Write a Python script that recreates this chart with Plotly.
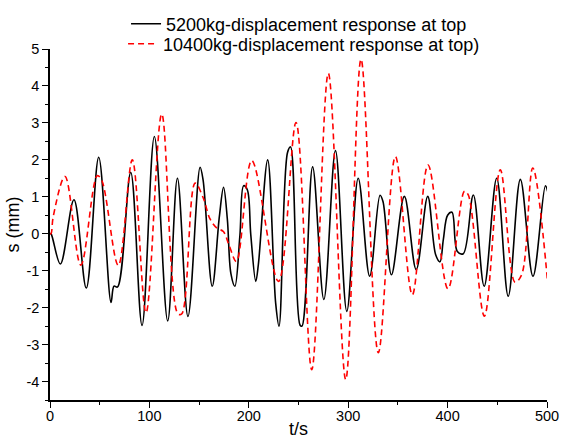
import plotly.graph_objects as go

# Black curve: 5200 kg (t in s, displacement in mm)
t_5200 = [0, 1, 10.4, 24.1, 36.5, 49, 61.4, 64.4, 68, 81.2, 92.6, 105, 118.4,
          128.2, 138.8, 151, 154, 163.2, 170.4, 174.6, 178.4, 182, 186, 191,
          194.8, 198.5, 202, 207, 209.6, 219, 227, 230.4, 238.9, 242, 251.5, 253.5,
          264.2, 275.5, 287.2, 298.6, 310.1, 321.6, 332, 335, 343.5, 356.5, 368.4,
          380, 388, 392.3, 395.7, 400, 404.4, 409.8, 415.8, 425.9, 436.8, 449.4,
          461, 473.2, 485.9, 498.4, 500.7]
s_5200 = [0, 0, -0.82, 0.92, -1.47, 2.07, -1.86, -1.42, -1.44, 1.66, -2.48, 2.63, -2.36,
          1.50, -2.24, 1.80, 1.46, -1.42, 0.47, 1.26, 0.40, -1.08, -1.42, -0.07,
          1.30, 1.19, -0.03, -1.29, -0.84, 2.0, -1.87, -2.5, 2.19, 2.35, -2.47, -2.5,
          1.81, -1.78, 2.25, -2.10, 1.50, -1.15, 1.04, 0.87, -1.11, 1.01, -0.97,
          1.01, -0.57, -0.76, -0.16, 0.50, 0.58, -0.48, -0.54, 1.05, -1.42, 1.50,
          -1.69, 1.47, -1.15, 1.30, 1.14]

# Red dashed curve: 10400 kg
t_10400 = [0, 1, 3.3, 15.1, 31, 47.5, 52, 68.7, 82.8, 96.6, 112.4, 128.5, 132.5,
           146, 154, 161, 168, 174.4, 180, 187.5, 203, 229.8, 247.5, 263.3, 280,
           297.5, 312.9, 330.3, 347.5, 364.5, 380.3, 400.4, 417, 420.8, 437,
           453, 467.8, 474.5, 485.7, 500.7]
s_10400 = [0, 0, 0.47, 1.55, -0.85, 1.57, 1.45, -0.86, 2.0, -2.14, 3.24, -2.16, -2.17,
           1.37, 0.98, 0.40, 0.15, 0.06, -0.30, -0.75, 1.98, -1.29, 3.01, -3.68, 4.34,
           -3.95, 4.72, -3.22, 2.09, -1.65, 1.86, -1.49, 1.15, 1.05, -2.23,
           1.73, -1.31, -1.11, 1.78, -1.33]

x_ticks = [0, 100, 200, 300, 400, 500]
y_ticks = [-4, -3, -2, -1, 0, 1, 2, 3, 4, 5]

font_family = "Liberation Sans, Arial, sans-serif"

fig = go.Figure()
fig.add_trace(go.Scatter(
    x=t_5200, y=s_5200, mode="lines",
    name="5200kg-displacement response at top",
    line=dict(color="black", width=1.6, shape="spline", smoothing=1.0),
    legend="legend",
))
fig.add_trace(go.Scatter(
    x=t_10400, y=s_10400, mode="lines",
    name="10400kg-displacement response at top)",
    line=dict(color="#ff0000", width=1.6, dash="6px,4px", shape="spline", smoothing=1.0),
    legend="legend2",
))

axis_common = dict(
    showline=True, linecolor="black", linewidth=1.5,
    ticks="outside", ticklen=6, tickwidth=1.2, tickcolor="black",
    showgrid=False, zeroline=False, mirror=False, automargin=False,
    tickfont=dict(family=font_family, size=14.5, color="black"),
)

fig.update_xaxes(
    range=[0, 500], tickvals=x_ticks, ticktext=[str(v) for v in x_ticks],
    minor=dict(ticks="outside", ticklen=3, tickwidth=1, tickcolor="black", dtick=50, showgrid=False),
    title=dict(text="t/s", font=dict(family=font_family, size=18, color="black"), standoff=0),
    ticklabelstandoff=-4,
    **axis_common,
)
fig.update_yaxes(
    range=[-4.5, 5], tickvals=y_ticks, ticktext=[str(v) for v in y_ticks],
    minor=dict(ticks="outside", ticklen=3, tickwidth=1, tickcolor="black", dtick=0.5, tick0=0, showgrid=False),
    title=dict(text="s (mm)", font=dict(family=font_family, size=18, color="black"), standoff=2),
    **axis_common,
)

legend_common = dict(
    xanchor="left", yanchor="middle",
    bgcolor="rgba(0,0,0,0)", borderwidth=0,
    font=dict(family=font_family, size=18, color="black"),
    itemwidth=30,
)

fig.update_layout(
    width=562, height=439, autosize=False,
    margin=dict(l=50, r=15, t=49, b=39, autoexpand=False),
    paper_bgcolor="white", plot_bgcolor="white",
    showlegend=True,
    legend=dict(x=0.153, y=1.071, **legend_common),
    legend2=dict(x=0.147, y=1.014, **legend_common),
)

fig.write_html("out.html", config={"displayModeBar": False},
               post_script="document.body.style.margin='0';")
